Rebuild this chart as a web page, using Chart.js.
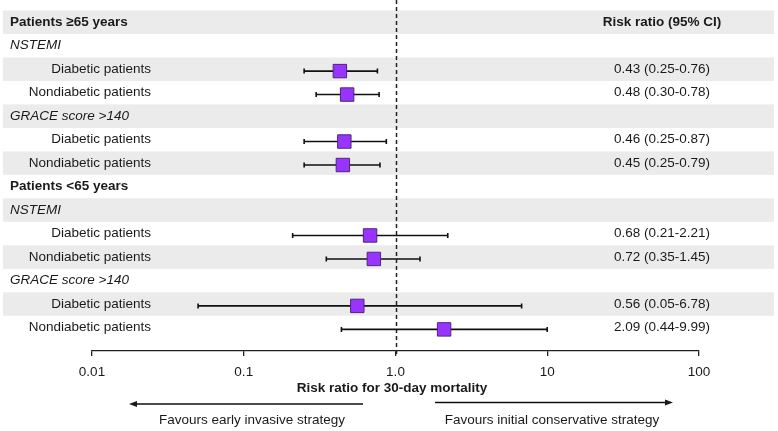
<!DOCTYPE html>
<html>
<head>
<meta charset="utf-8">
<script src="https://cdn.jsdelivr.net/npm/chart.js@4"></script>
<style>
  body { margin: 0; background: #fff; }
  #wrap { width: 778px; height: 431px; }
</style>
</head>
<body>
<div id="wrap"><canvas id="forest"></canvas></div>
<script>
// Filas del forest plot (de arriba a abajo)
const rowLabels = ['Patients \u226565 years', 'NSTEMI', 'Diabetic patients', 'Nondiabetic patients',
  'GRACE score >140', 'Diabetic patients', 'Nondiabetic patients',
  'Patients <65 years', 'NSTEMI', 'Diabetic patients', 'Nondiabetic patients',
  'GRACE score >140', 'Diabetic patients', 'Nondiabetic patients'];
const rowKinds = ['group', 'sub', 'item', 'item', 'sub', 'item', 'item',
  'group', 'sub', 'item', 'item', 'sub', 'item', 'item'];

// Riesgo relativo e IC 95%
const estimates = [null, null, 0.43, 0.48, null, 0.46, 0.45, null, null, 0.68, 0.72, null, 0.56, 2.09];
const lower     = [null, null, 0.25, 0.30, null, 0.25, 0.25, null, null, 0.21, 0.35, null, 0.05, 0.44];
const upper     = [null, null, 0.76, 0.78, null, 0.87, 0.79, null, null, 2.21, 1.45, null, 6.78, 9.99];

// Eje x
const tickValues = [0.01, 0.1, 1, 10, 100];
const tickLabels = ['0.01', '0.1', '1.0', '10', '100'];

const FONT = '"Liberation Sans", Arial, sans-serif';
const INK = '#1a1a1a';
const MARK_SHIFT = 0.08;

const points = [];
estimates.forEach((v, i) => {
  if (v !== null) points.push({ x: v, y: i + MARK_SHIFT });
});

// Bandas, línea de referencia, barras de error y textos
const forestPlugin = {
  id: 'forest',
  beforeDraw(chart) {
    const ctx = chart.ctx;
    const ys = chart.scales.y;
    ctx.save();
    ctx.fillStyle = '#ebebeb';
    rowLabels.forEach((_, i) => {
      if (i % 2 === 0) {
        const top = ys.getPixelForValue(i - 0.5);
        const bot = ys.getPixelForValue(i + 0.5);
        ctx.fillRect(3, top, 771, bot - top);
      }
    });
    ctx.restore();
  },
  beforeDatasetsDraw(chart) {
    const ctx = chart.ctx;
    const xs = chart.scales.x, ys = chart.scales.y;
    ctx.save();
    // línea discontinua en RR = 1
    const x1 = Math.round(xs.getPixelForValue(1)) + 0.5;
    ctx.strokeStyle = '#222';
    ctx.lineWidth = 1.5;
    ctx.setLineDash([4, 3]);
    ctx.beginPath();
    ctx.moveTo(x1, 0);
    ctx.lineTo(x1, chart.chartArea.bottom + 4);
    ctx.stroke();
    ctx.setLineDash([]);

    // intervalos de confianza
    ctx.strokeStyle = '#111';
    ctx.lineWidth = 1.6;
    estimates.forEach((v, i) => {
      if (v === null) return;
      const y = ys.getPixelForValue(i + MARK_SHIFT);
      const a = xs.getPixelForValue(lower[i]);
      const b = xs.getPixelForValue(upper[i]);
      ctx.beginPath();
      ctx.moveTo(a, y); ctx.lineTo(b, y);
      ctx.moveTo(a, y - 2.5); ctx.lineTo(a, y + 2.5);
      ctx.moveTo(b, y - 2.5); ctx.lineTo(b, y + 2.5);
      ctx.stroke();
    });
    ctx.restore();
  },
  afterDraw(chart) {
    const ctx = chart.ctx;
    const ys = chart.scales.y;
    ctx.save();
    ctx.fillStyle = INK;
    ctx.textBaseline = 'middle';

    // cabecera de la columna derecha
    ctx.textAlign = 'center';
    ctx.font = 'bold 13.5px ' + FONT;
    ctx.fillText('Risk ratio (95% CI)', 662, ys.getPixelForValue(0));

    rowLabels.forEach((lab, i) => {
      const y = ys.getPixelForValue(i);
      if (rowKinds[i] === 'group') {
        ctx.font = 'bold 13.5px ' + FONT;
        ctx.textAlign = 'left';
        ctx.fillText(lab, 10, y);
      } else if (rowKinds[i] === 'sub') {
        ctx.font = 'italic 13.5px ' + FONT;
        ctx.textAlign = 'left';
        ctx.fillText(lab, 10, y);
      } else {
        ctx.font = '13.5px ' + FONT;
        ctx.textAlign = 'right';
        ctx.fillText(lab, 151, y);
        ctx.textAlign = 'center';
        const txt = estimates[i].toFixed(2) + ' (' + lower[i].toFixed(2) + '-' + upper[i].toFixed(2) + ')';
        ctx.fillText(txt, 662, y);
      }
    });

    // título del eje
    ctx.textAlign = 'center';
    ctx.font = 'bold 13.5px ' + FONT;
    ctx.fillText('Risk ratio for 30-day mortality', 392, 388);

    // flechas
    ctx.strokeStyle = '#111';
    ctx.lineWidth = 1.3;
    ctx.beginPath();
    ctx.moveTo(363, 404); ctx.lineTo(134, 404);
    ctx.moveTo(435, 402.5); ctx.lineTo(668, 402.5);
    ctx.stroke();
    ctx.beginPath();
    ctx.moveTo(129, 404); ctx.lineTo(137, 401); ctx.lineTo(137, 407); ctx.closePath();
    ctx.moveTo(673, 402.5); ctx.lineTo(665, 399.5); ctx.lineTo(665, 405.5); ctx.closePath();
    ctx.fill();

    ctx.font = '13.5px ' + FONT;
    ctx.fillText('Favours early invasive strategy', 252, 420);
    ctx.fillText('Favours initial conservative strategy', 552, 420);
    ctx.restore();
  }
};

new Chart(document.getElementById('forest'), {
  type: 'scatter',
  data: {
    datasets: [{
      data: points,
      pointStyle: 'rect',
      pointRadius: 9.5,
      pointHoverRadius: 9.5,
      backgroundColor: '#9933ff',
      borderColor: '#4f2678',
      borderWidth: 1
    }]
  },
  options: {
    responsive: true,
    maintainAspectRatio: false,
    animation: false,
    layout: { padding: { left: 92, right: 79, top: 10, bottom: 0 } },
    plugins: { legend: { display: false }, tooltip: { enabled: false } },
    scales: {
      x: {
        type: 'logarithmic',
        min: 0.01,
        max: 100,
        afterBuildTicks: s => { s.ticks = tickValues.map(v => ({ value: v })); },
        afterFit: s => { s.height = 80; },
        grid: { drawOnChartArea: false, tickLength: 5, color: '#222', lineWidth: 1.3 },
        border: { color: '#222', width: 1.3 },
        ticks: {
          autoSkip: false,
          maxRotation: 0,
          padding: 8,
          color: INK,
          font: { family: FONT, size: 13.5 },
          callback: (v, i) => tickLabels[i]
        }
      },
      y: {
        type: 'linear',
        reverse: true,
        min: -0.5,
        max: 14,
        display: false
      }
    }
  },
  plugins: [forestPlugin]
});
</script>
</body>
</html>
